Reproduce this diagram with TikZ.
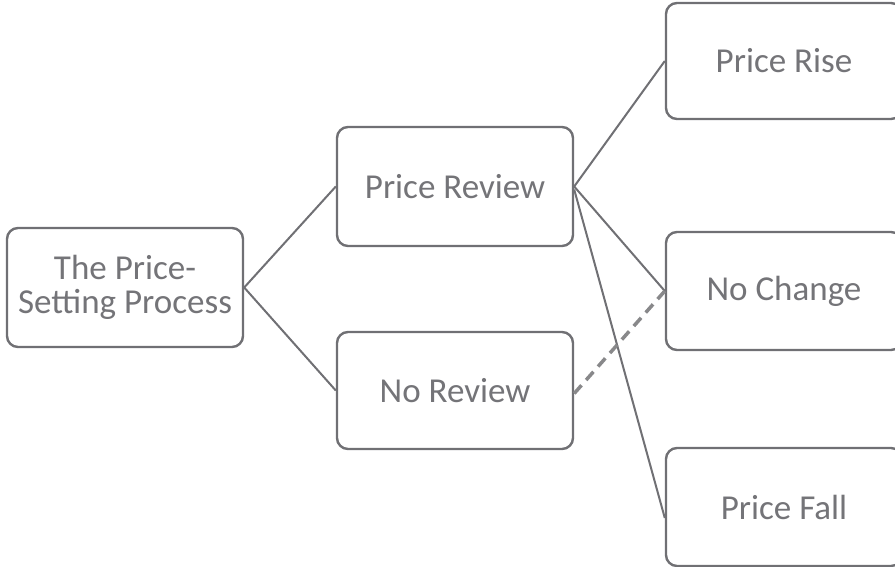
\documentclass[tikz,border=0pt]{standalone}
\usepackage{fontspec}
\setmainfont{Carlito}
\definecolor{boxgray}{RGB}{112,112,116}
\definecolor{txtgray}{RGB}{116,116,120}
\definecolor{dashgray}{RGB}{136,136,138}
\begin{document}
\begin{tikzpicture}[x=1pt,y=-1pt,
  box/.style={draw=boxgray, line width=2.4pt, rounded corners=11pt, fill=white,
    minimum width=236pt, minimum height=118pt, inner sep=0pt,
    text=txtgray, align=center, font=\fontsize{35}{34}\selectfont},
  link/.style={draw=boxgray, line width=2pt},
  dlink/.style={draw=dashgray, line width=3.5pt, dash pattern=on 11pt off 7pt}]
\useasboundingbox (0,0) rectangle (895,567);
\clip (0,0) rectangle (895,567);
\node[box, minimum height=119pt] (tps) at (125,287.5) {The Price-\\Setting Process};
\node[box, minimum height=119pt] (pr) at (455,186.5) {Price Review};
\node[box, minimum height=117pt] (nr) at (455,390.5) {No Review};
\node[box, minimum height=116pt] (rise) at (784,61) {Price Rise};
\node[box] (nc) at (784,291) {No Change};
\node[box] (pf) at (784,507) {Price Fall};
\draw[link] (tps.east) -- (pr.west);
\draw[link] (tps.east) -- (nr.west);
\draw[link] (pr.east) -- (rise.west);
\draw[link] (pr.east) -- (nc.west);
\draw[link] ([yshift=-3pt]pr.east) -- ([yshift=-11pt]pf.west);
\draw[dlink] ([yshift=-3pt]nr.east) -- (nc.west);
\end{tikzpicture}
\end{document}
